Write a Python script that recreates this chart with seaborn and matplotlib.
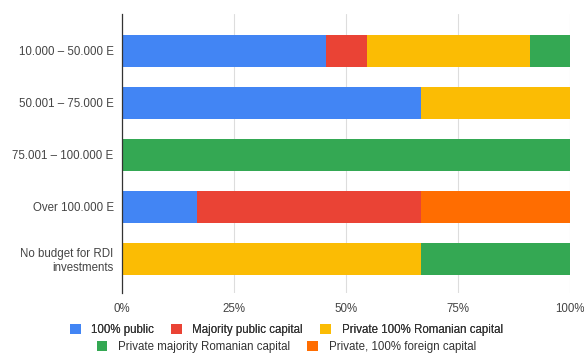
import numpy as np
import pandas as pd
import seaborn as sns
import matplotlib.pyplot as plt
from matplotlib.patches import Patch

categories = ["10.000 – 50.000 E", "50.001 – 75.000 E", "75.001 – 100.000 E",
              "Over 100.000 E", "No budget for RDI\ninvestments"]
series = ["100% public", "Majority public capital", "Private 100% Romanian capital",
          "Private majority Romanian capital", "Private, 100% foreign capital"]
public = [45.5, 66.7, 0, 16.7, 0]
majority_public = [9.1, 0, 0, 50.0, 0]
private_ro = [36.4, 33.3, 0, 0, 66.7]
private_majority_ro = [9.1, 0, 100.0, 0, 33.3]
private_foreign = [0, 0, 0, 33.3, 0]
colors = ["#4285F4", "#EA4335", "#FBBC04", "#34A853", "#FF6D01"]

df = pd.DataFrame({"category": categories, series[0]: public, series[1]: majority_public,
                   series[2]: private_ro, series[3]: private_majority_ro,
                   series[4]: private_foreign})

sns.set_style("white")
plt.rcParams["font.family"] = ["Liberation Sans", "DejaVu Sans"]

fig = plt.figure(figsize=(5.84, 3.59), dpi=100)
ax = fig.add_axes([0.209, 0.184, 0.767, 0.777])

# stacked bars: draw cumulative totals from the last series backwards
cum = df[series].cumsum(axis=1)
for i in range(len(series) - 1, -1, -1):
    sns.barplot(x=cum[series[i]], y=df["category"], color=colors[i], orient="h",
                width=0.615, saturation=1, ax=ax, linewidth=0)

ax.set_xlim(0, 100)
ax.set_ylim(4.654, -0.71)
ax.set_xticks([0, 25, 50, 75, 100])
ax.set_xticklabels(["0%", "25%", "50%", "75%", "100%"])
ax.set_xlabel("")
ax.set_ylabel("")
ax.grid(axis="x", color="#dddddd", linewidth=0.8)
ax.set_axisbelow(True)
for s in ["top", "right", "bottom"]:
    ax.spines[s].set_visible(False)
ax.spines["left"].set_color("#333333")
ax.spines["left"].set_linewidth(0.9)
ax.spines["left"].set_zorder(5)
ax.tick_params(axis="both", length=0, labelsize=8.3, colors="#444444", pad=6)
ax.tick_params(axis="x", pad=7)

handles = [Patch(facecolor=c, edgecolor="none") for c in colors]
leg_kw = dict(frameon=False, fontsize=8.3, handlelength=0.95, handleheight=0.95,
              handletextpad=0.9, columnspacing=1.5, labelcolor="#333333")
leg1 = fig.legend(handles[:3], series[:3], loc="center", bbox_to_anchor=(0.49, 0.081),
                  ncol=3, **leg_kw)
fig.legend(handles[3:], series[3:], loc="center", bbox_to_anchor=(0.49, 0.033),
           ncol=2, **leg_kw)
fig.add_artist(leg1)

fig.savefig("out.png", dpi=100)
